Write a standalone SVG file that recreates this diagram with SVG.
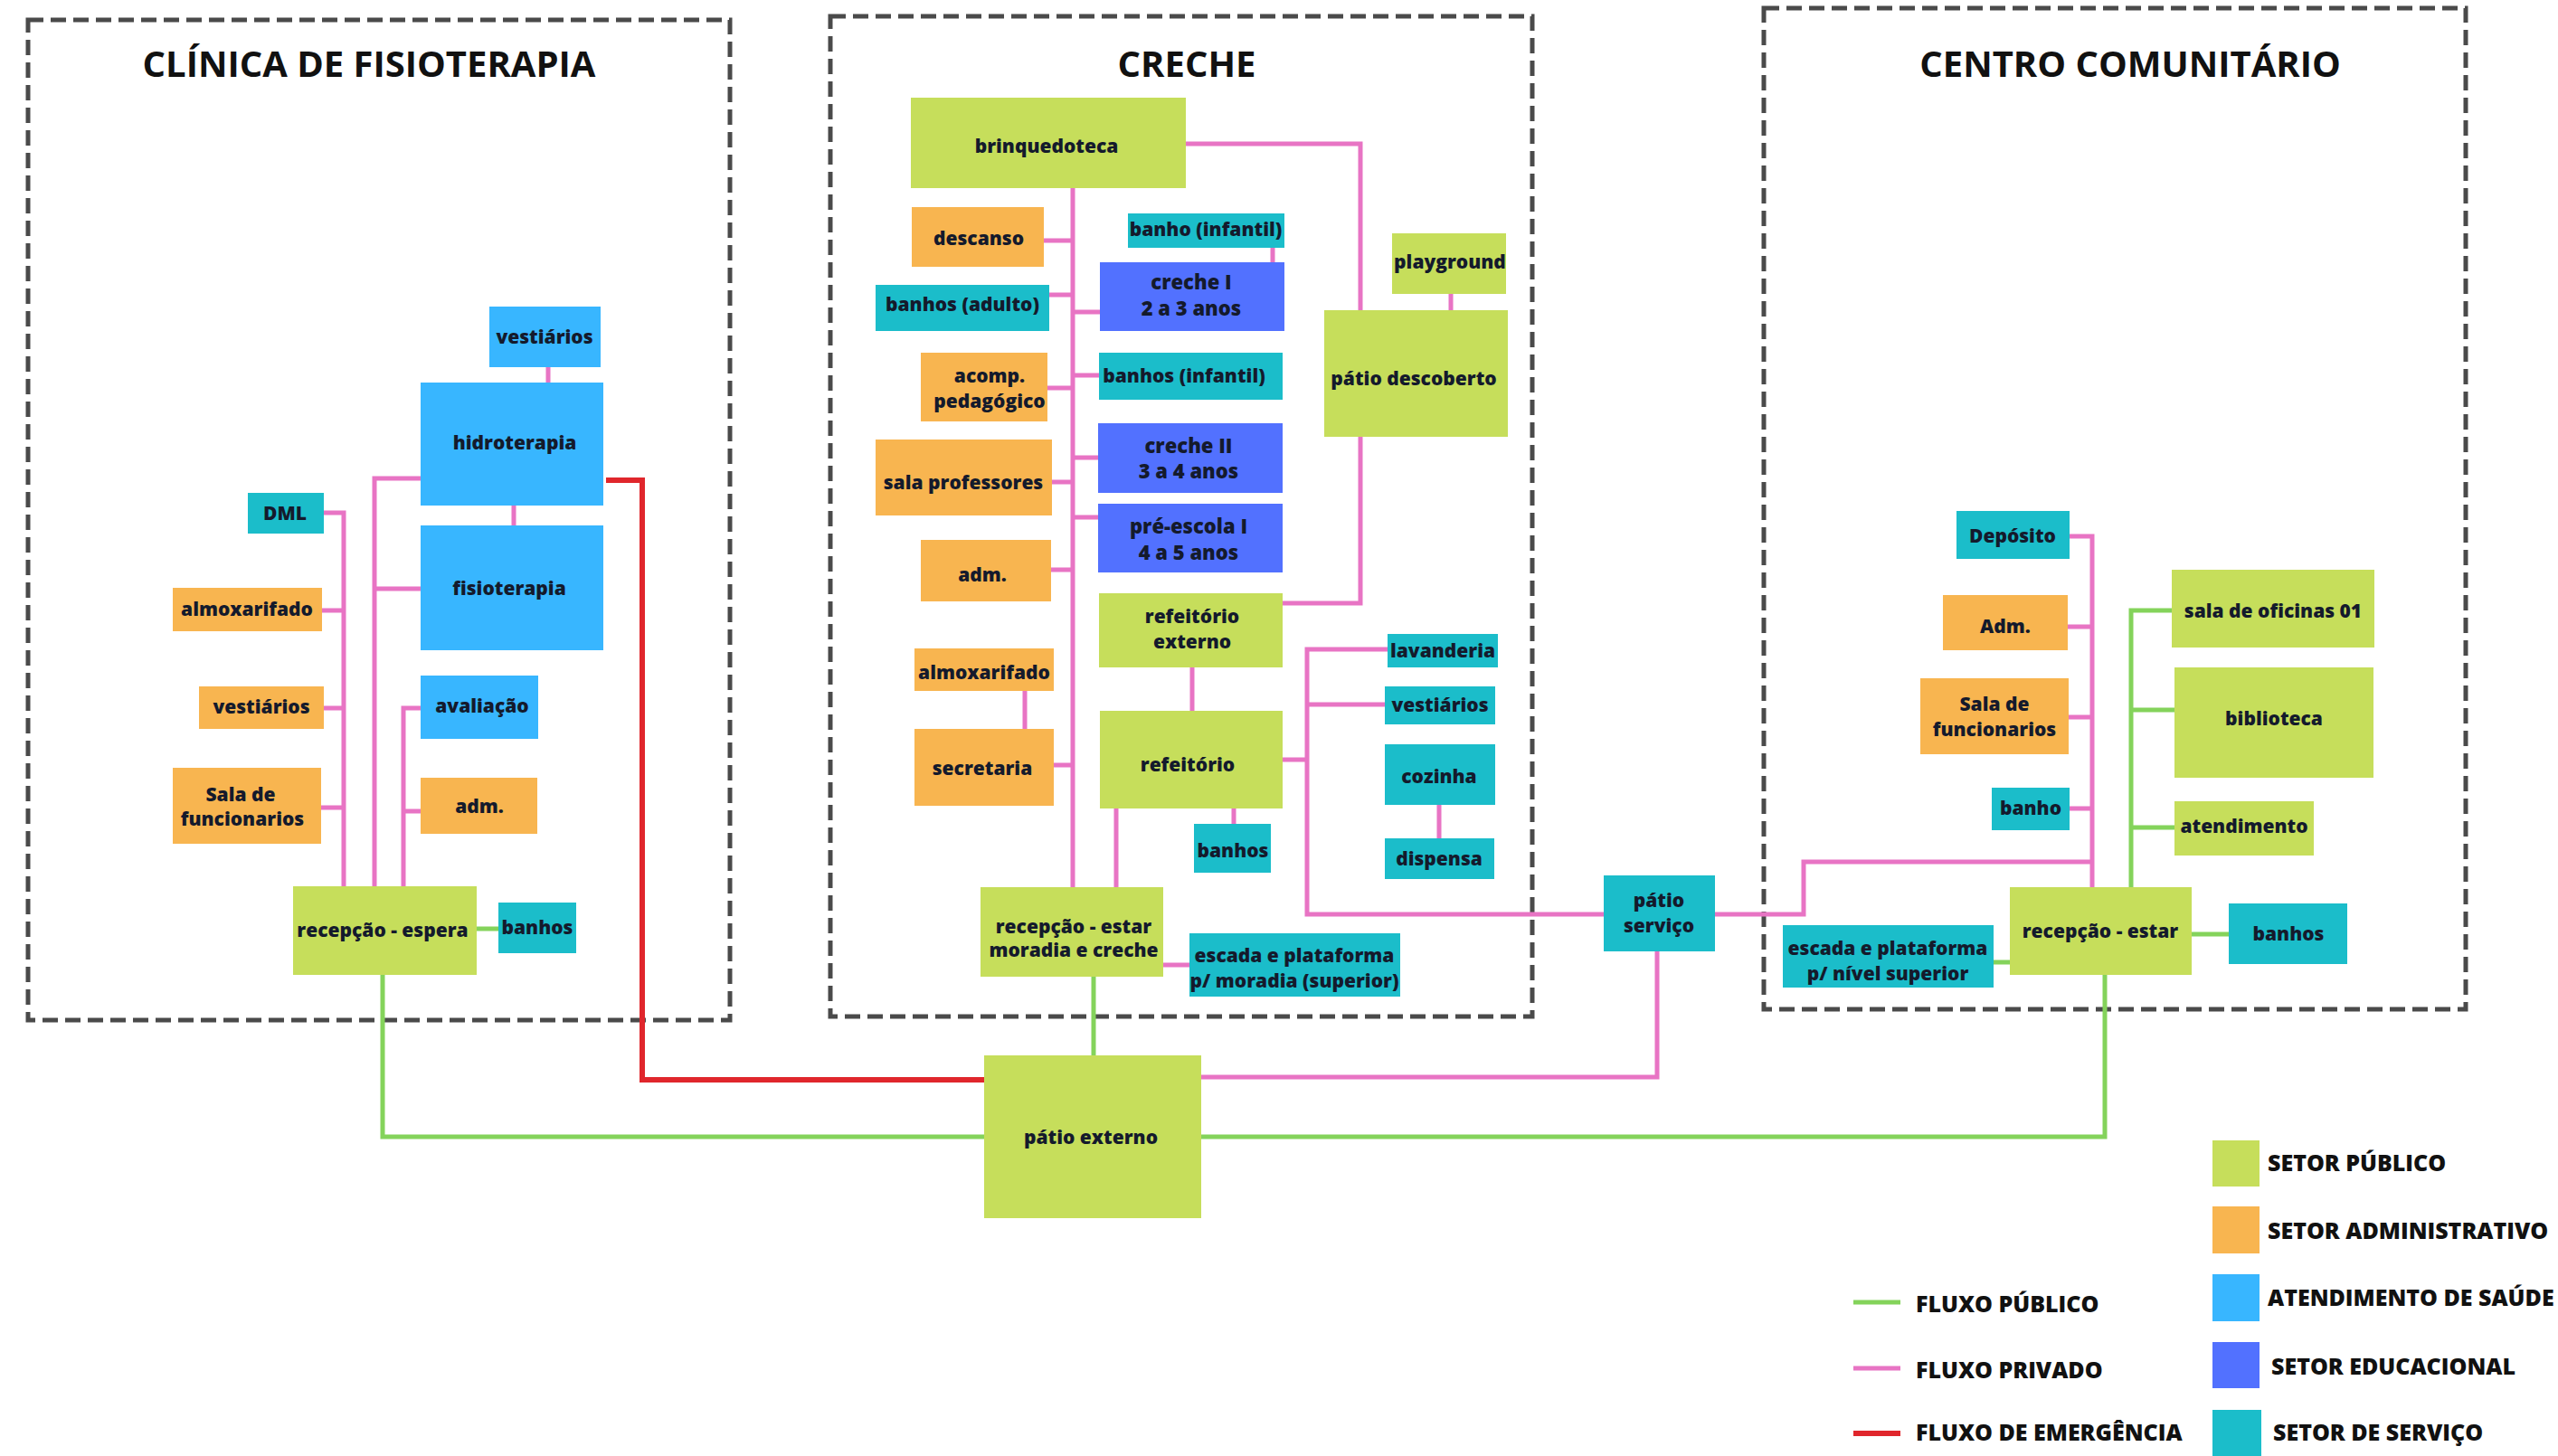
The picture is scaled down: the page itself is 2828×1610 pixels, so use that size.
<svg xmlns="http://www.w3.org/2000/svg" width="2828" height="1610" viewBox="0 0 2828 1610">
<style>
text{font-family:"Open Sans","Noto Sans","DejaVu Sans",sans-serif;font-weight:800;fill:#141a2c}
.n text{font-size:21px;text-anchor:middle}
.n .big{font-size:22px}
.ttl{font-size:40px;text-anchor:middle;fill:#111;font-weight:700}
.leg{font-size:25px;fill:#111}
.g{fill:#c6de5b}.o{fill:#f8b550}.lb{fill:#38b6ff}.b{fill:#5271ff}.t{fill:#1bbdca}
.pk{stroke:#e874c4;stroke-width:5;fill:none}
.gr{stroke:#84d35b;stroke-width:5;fill:none}
.rd{stroke:#e0262c;stroke-width:6;fill:none}
.box{fill:none;stroke:#4a4a4a;stroke-width:5;stroke-dasharray:17 8}
</style>
<rect width="2828" height="1610" fill="#fff"/>
<g id="boxes">
<rect class="box" x="31" y="22" width="776" height="1106"/>
<rect class="box" x="918" y="18" width="776" height="1106"/>
<rect class="box" x="1950" y="9" width="776" height="1107"/>
<text class="ttl" x="408" y="85">CLÍNICA DE FISIOTERAPIA</text>
<text class="ttl" x="1312" y="85">CRECHE</text>
<text class="ttl" x="2355" y="85">CENTRO COMUNITÁRIO</text>
</g>
<g id="connectors">
<path class="pk" d="M358,567H380V980M356,675H380M358,783H380M355,893H380"/>
<path class="pk" d="M465,529H414V980M465,651H414"/>
<path class="pk" d="M465,783H446V980M465,897H446"/>
<path class="pk" d="M606,406V423M568,559V581"/>
<path class="gr" d="M527,1027H551"/>
<path class="gr" d="M423,1078V1257H1088"/>
<path class="rd" d="M670,531H710V1194H1088"/>
<path class="pk" d="M1186,208V981"/>
<path class="pk" d="M1154,266H1186M1160,326H1186M1158,429H1186M1163,533H1186M1162,630H1186M1165,846H1186"/>
<path class="pk" d="M1186,345H1216M1186,415H1215M1186,506H1214M1186,572H1214"/>
<path class="pk" d="M1407,274V290M1604,325V343M1133,764V806M1318,738V786M1234,894V981M1364,894V911M1591,890V927"/>
<path class="pk" d="M1311,159H1504V343M1504,483V667H1418"/>
<path class="pk" d="M1534,718H1445V1011H1773M1531,779H1445M1418,840H1445"/>
<path class="pk" d="M1286,1067H1315"/>
<path class="pk" d="M1832,1052V1191H1328"/>
<path class="pk" d="M1895,1011H1994V953H2313"/>
<path class="gr" d="M1209,1080V1167"/>
<path class="pk" d="M2288,593H2313V981M2286,693H2313M2287,793H2313M2288,894H2313"/>
<path class="gr" d="M2401,675H2356V981M2404,785H2356M2404,915H2356"/>
<path class="gr" d="M2423,1033H2464M2204,1064H2222"/>
<path class="gr" d="M2327,1078V1257H1328"/>
</g>
<g id="c_vestiarios" class="n"><rect class="lb" x="541" y="339" width="123" height="67"/><text x="602" y="380">vestiários</text></g>
<g id="c_hidroterapia" class="n"><rect class="lb" x="465" y="423" width="202" height="136"/><text x="569" y="497">hidroterapia</text></g>
<g id="c_fisioterapia" class="n"><rect class="lb" x="465" y="581" width="202" height="138"/><text x="563" y="658">fisioterapia</text></g>
<g id="c_dml" class="n"><rect class="t" x="274" y="545" width="84" height="45"/><text x="315" y="575">DML</text></g>
<g id="c_almoxarifado" class="n"><rect class="o" x="191" y="650" width="165" height="48"/><text x="273" y="681">almoxarifado</text></g>
<g id="c_vestiarios2" class="n"><rect class="o" x="220" y="759" width="138" height="47"/><text x="289" y="789">vestiários</text></g>
<g id="c_avaliacao" class="n"><rect class="lb" x="465" y="747" width="130" height="70"/><text x="533" y="788">avaliação</text></g>
<g id="c_sala_func" class="n"><rect class="o" x="191" y="849" width="164" height="84"/><text x="266" y="886">Sala de</text><text x="268" y="913">funcionarios</text></g>
<g id="c_adm" class="n"><rect class="o" x="465" y="860" width="129" height="62"/><text x="530" y="899">adm.</text></g>
<g id="c_recepcao" class="n"><rect class="g" x="324" y="980" width="203" height="98"/><text x="423" y="1036">recepção - espera</text></g>
<g id="c_banhos" class="n"><rect class="t" x="551" y="998" width="86" height="56"/><text x="594" y="1033">banhos</text></g>
<g id="k_brinquedoteca" class="n"><rect class="g" x="1007" y="108" width="304" height="100"/><text x="1157" y="169">brinquedoteca</text></g>
<g id="k_descanso" class="n"><rect class="o" x="1008" y="229" width="146" height="66"/><text x="1082" y="271">descanso</text></g>
<g id="k_banho_inf" class="n"><rect class="t" x="1247" y="236" width="173" height="38"/><text x="1333" y="261">banho (infantil)</text></g>
<g id="k_creche1" class="n"><rect class="b" x="1216" y="290" width="204" height="76"/><text class="big" x="1317" y="320">creche I</text><text class="big" x="1317" y="349">2 a 3 anos</text></g>
<g id="k_banhos_ad" class="n"><rect class="t" x="968" y="315" width="192" height="51"/><text x="1064" y="344">banhos (adulto)</text></g>
<g id="k_acomp" class="n"><rect class="o" x="1018" y="390" width="140" height="76"/><text x="1094" y="423">acomp.</text><text x="1094" y="451">pedagógico</text></g>
<g id="k_banhos_inf" class="n"><rect class="t" x="1215" y="390" width="203" height="52"/><text x="1309" y="423">banhos (infantil)</text></g>
<g id="k_creche2" class="n"><rect class="b" x="1214" y="468" width="204" height="77"/><text class="big" x="1314" y="501">creche II</text><text class="big" x="1314" y="529">3 a 4 anos</text></g>
<g id="k_sala_prof" class="n"><rect class="o" x="968" y="486" width="195" height="84"/><text x="1065" y="541">sala professores</text></g>
<g id="k_preescola" class="n"><rect class="b" x="1214" y="557" width="204" height="76"/><text class="big" x="1314" y="590">pré-escola I</text><text class="big" x="1314" y="619">4 a 5 anos</text></g>
<g id="k_adm" class="n"><rect class="o" x="1018" y="597" width="144" height="68"/><text x="1086" y="643">adm.</text></g>
<g id="k_patio_desc" class="n"><rect class="g" x="1464" y="343" width="203" height="140"/><text x="1563" y="426">pátio descoberto</text></g>
<g id="k_playground" class="n"><rect class="g" x="1539" y="258" width="126" height="67"/><text x="1603" y="297">playground</text></g>
<g id="k_refext" class="n"><rect class="g" x="1215" y="656" width="203" height="82"/><text x="1318" y="689">refeitório</text><text x="1318" y="717">externo</text></g>
<g id="k_almox" class="n"><rect class="o" x="1011" y="717" width="154" height="47"/><text x="1088" y="751">almoxarifado</text></g>
<g id="k_lavanderia" class="n"><rect class="t" x="1534" y="701" width="122" height="37"/><text x="1595" y="727">lavanderia</text></g>
<g id="k_vestiarios" class="n"><rect class="t" x="1531" y="759" width="122" height="42"/><text x="1592" y="787">vestiários</text></g>
<g id="k_secretaria" class="n"><rect class="o" x="1011" y="806" width="154" height="85"/><text x="1086" y="857">secretaria</text></g>
<g id="k_refeitorio" class="n"><rect class="g" x="1216" y="786" width="202" height="108"/><text x="1313" y="853">refeitório</text></g>
<g id="k_cozinha" class="n"><rect class="t" x="1531" y="823" width="122" height="67"/><text x="1591" y="866">cozinha</text></g>
<g id="k_dispensa" class="n"><rect class="t" x="1531" y="927" width="121" height="45"/><text x="1591" y="957">dispensa</text></g>
<g id="k_banhos" class="n"><rect class="t" x="1320" y="911" width="85" height="54"/><text x="1363" y="948">banhos</text></g>
<g id="k_recepcao" class="n"><rect class="g" x="1084" y="981" width="202" height="99"/><text x="1187" y="1032">recepção - estar</text><text x="1187" y="1058">moradia e creche</text></g>
<g id="k_escada" class="n"><rect class="t" x="1315" y="1032" width="233" height="70"/><text x="1431" y="1064">escada e plataforma</text><text x="1431" y="1092">p/ moradia (superior)</text></g>
<g id="patio_externo" class="n"><rect class="g" x="1088" y="1167" width="240" height="180"/><text x="1206" y="1265">pátio externo</text></g>
<g id="patio_servico" class="n"><rect class="t" x="1773" y="968" width="123" height="84"/><text x="1834" y="1003">pátio</text><text x="1834" y="1031">serviço</text></g>
<g id="z_deposito" class="n"><rect class="t" x="2163" y="565" width="125" height="53"/><text x="2225" y="600">Depósito</text></g>
<g id="z_adm" class="n"><rect class="o" x="2148" y="658" width="138" height="61"/><text x="2217" y="700">Adm.</text></g>
<g id="z_sala_func" class="n"><rect class="o" x="2123" y="750" width="164" height="84"/><text x="2205" y="786">Sala de</text><text x="2205" y="814">funcionarios</text></g>
<g id="z_banho" class="n"><rect class="t" x="2202" y="871" width="86" height="47"/><text x="2245" y="901">banho</text></g>
<g id="z_oficinas" class="n"><rect class="g" x="2401" y="630" width="224" height="86"/><text x="2513" y="683">sala de oficinas 01</text></g>
<g id="z_biblioteca" class="n"><rect class="g" x="2404" y="738" width="220" height="122"/><text x="2514" y="802">biblioteca</text></g>
<g id="z_atendimento" class="n"><rect class="g" x="2404" y="886" width="154" height="60"/><text x="2481" y="921">atendimento</text></g>
<g id="z_recepcao" class="n"><rect class="g" x="2222" y="981" width="201" height="97"/><text x="2322" y="1037">recepção - estar</text></g>
<g id="z_banhos" class="n"><rect class="t" x="2464" y="999" width="131" height="67"/><text x="2530" y="1040">banhos</text></g>
<g id="z_escada" class="n"><rect class="t" x="1971" y="1023" width="233" height="69"/><text x="2087" y="1056">escada e plataforma</text><text x="2087" y="1084">p/ nível superior</text></g>
<g id="legend">
<rect class="g" x="2446" y="1261" width="52" height="51"/>
<rect class="o" x="2446" y="1334" width="52" height="52"/>
<rect class="lb" x="2446" y="1409" width="52" height="52"/>
<rect class="b" x="2446" y="1484" width="52" height="51"/>
<rect class="t" x="2446" y="1559" width="54" height="51"/>
<text class="leg" x="2507" y="1295">SETOR PÚBLICO</text>
<text class="leg" x="2507" y="1370">SETOR ADMINISTRATIVO</text>
<text class="leg" x="2507" y="1444">ATENDIMENTO DE SAÚDE</text>
<text class="leg" x="2511" y="1520">SETOR EDUCACIONAL</text>
<text class="leg" x="2513" y="1593">SETOR DE SERVIÇO</text>
<path class="gr" d="M2049,1440H2101" stroke-width="7"/>
<path class="pk" d="M2049,1513H2101" stroke-width="7"/>
<path class="rd" d="M2049,1585H2101" stroke-width="7"/>
<text class="leg" x="2118" y="1451">FLUXO PÚBLICO</text>
<text class="leg" x="2118" y="1524">FLUXO PRIVADO</text>
<text class="leg" x="2118" y="1593">FLUXO DE EMERGÊNCIA</text>
</g>
</svg>
